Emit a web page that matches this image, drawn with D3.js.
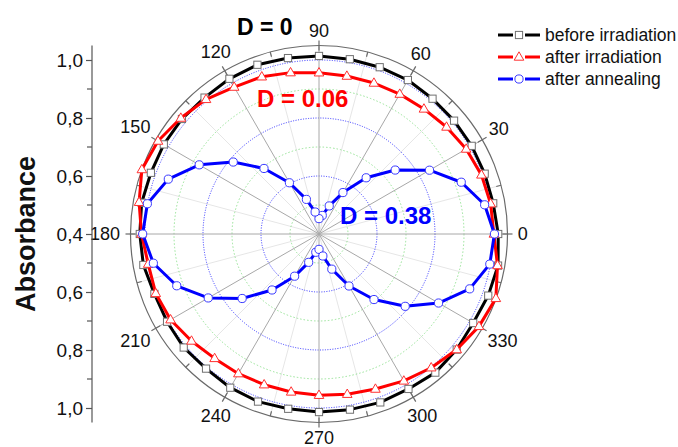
<!DOCTYPE html>
<html>
<head>
<meta charset="utf-8">
<script src="https://cdn.jsdelivr.net/npm/d3@7/dist/d3.min.js"></script>
<style>
  html, body { margin: 0; padding: 0; background: #fff; }
  svg { display: block; font-family: "Liberation Sans", Arial, sans-serif; }
</style>
</head>
<body>
<svg id="chart" width="678" height="447"></svg>
<script>
// Polarisation angle (degrees) of each measurement
const angles = [0, 10, 20, 30, 40, 50, 60, 70, 80, 90, 100, 110, 120, 130, 140, 150, 160, 170,
                180, 190, 200, 210, 220, 230, 240, 250, 260, 270, 280, 290, 300, 310, 320, 330, 340, 350];

// Absorbance at each angle
const beforeIrradiation = [1.018, 1.010, 1.008, 1.008, 1.008, 1.009, 1.013, 1.012, 1.012, 1.014, 1.016, 1.021,
                           1.018, 1.014, 1.017, 1.018, 1.017, 1.021, 1.018, 1.015, 1.004, 1.005, 1.009, 1.006,
                           1.012, 1.015, 1.012, 1.014, 1.015, 1.018, 1.017, 1.024, 1.020, 1.014, 1.021, 1.027];
const afterIrradiation = [1.003, 1.001, 0.996, 0.986, 0.974, 0.963, 0.957, 0.954, 0.953, 0.956, 0.965, 0.977,
                          0.985, 1.006, 1.022, 1.041, 1.050, 1.030, 1.012, 0.998, 0.999, 0.991, 0.974, 0.960,
                          0.956, 0.953, 0.953, 0.956, 0.961, 0.969, 0.985, 1.002, 1.020, 1.037, 1.049, 1.025];
const afterAnnealing = [1.005, 0.980, 0.922, 0.840, 0.743, 0.653, 0.565, 0.503, 0.465, 0.453, 0.477, 0.527,
                        0.604, 0.695, 0.786, 0.877, 0.953, 1.001, 1.008, 0.980, 0.922, 0.841, 0.746, 0.652,
                        0.568, 0.504, 0.464, 0.453, 0.477, 0.529, 0.607, 0.695, 0.788, 0.876, 0.953, 0.998];

const seriesNames = ["before irradiation", "after irradiation", "after annealing"];
const dichroism = ["D = 0", "D = 0.06", "D = 0.38"];

// Radial axis
const radialMin = 0.4, radialMax = 1.05;
const majorRings = [0.6, 0.8, 1.0];
const minorRings = [0.5, 0.7, 0.9];
const angleTicks = [0, 30, 60, 90, 120, 150, 180, 210, 240, 270, 300, 330];
const angleMinorTicks = [15, 45, 75, 105, 135, 165, 195, 225, 255, 285, 315, 345];
const axisTickValues = [-0.6, -0.4, -0.2, 0, 0.2, 0.4, 0.6];
const axisTickLabels = ["1,0", "0,8", "0,6", "0,4", "0,6", "0,8", "1,0"];
const axisMinorValues = [-0.5, -0.3, -0.1, 0.1, 0.3, 0.5];

const svg = d3.select("#chart");
const cx = 319, cy = 234, R = 188.5;

const r = d3.scaleLinear().domain([radialMin, radialMax]).range([0, R]);
const rad = d => d * Math.PI / 180;
const px = (a, v) => cx + r(v) * Math.cos(rad(a));
const py = (a, v) => cy - r(v) * Math.sin(rad(a));

const g = svg.append("g");

// faint minor spokes
g.selectAll("line.minorSpoke").data(angleMinorTicks).join("line")
  .attr("x1", cx).attr("y1", cy)
  .attr("x2", a => px(a, radialMax)).attr("y2", a => py(a, radialMax))
  .attr("stroke", "#e6e6e6").attr("stroke-width", 1);

// minor rings (green dotted)
g.selectAll("circle.minorRing").data(minorRings).join("circle")
  .attr("cx", cx).attr("cy", cy).attr("r", d => r(d))
  .attr("fill", "none").attr("stroke", "#7fdc7f").attr("stroke-width", 0.8)
  .attr("stroke-dasharray", "1.5,2");

// major rings (blue dotted)
g.selectAll("circle.majorRing").data(majorRings).join("circle")
  .attr("cx", cx).attr("cy", cy).attr("r", d => r(d))
  .attr("fill", "none").attr("stroke", "#3333ff").attr("stroke-width", 1)
  .attr("stroke-dasharray", "1,1.5");

// major spokes
g.selectAll("line.spoke").data(angleTicks).join("line")
  .attr("x1", cx).attr("y1", cy)
  .attr("x2", a => px(a, radialMax)).attr("y2", a => py(a, radialMax))
  .attr("stroke", "#a8a8a8").attr("stroke-width", 1);

// outer circle
g.append("circle").attr("cx", cx).attr("cy", cy).attr("r", R)
  .attr("fill", "none").attr("stroke", "#6a6a6a").attr("stroke-width", 1.2);

// angular ticks
g.selectAll("line.aTick").data(angleTicks).join("line")
  .attr("x1", a => cx + (R - 5) * Math.cos(rad(a))).attr("y1", a => cy - (R - 5) * Math.sin(rad(a)))
  .attr("x2", a => cx + (R + 5) * Math.cos(rad(a))).attr("y2", a => cy - (R + 5) * Math.sin(rad(a)))
  .attr("stroke", "#6a6a6a").attr("stroke-width", 1.2);
g.selectAll("line.aMinor").data(angleMinorTicks).join("line")
  .attr("x1", a => cx + (R - 5) * Math.cos(rad(a))).attr("y1", a => cy - (R - 5) * Math.sin(rad(a)))
  .attr("x2", a => cx + R * Math.cos(rad(a))).attr("y2", a => cy - R * Math.sin(rad(a)))
  .attr("stroke", "#6a6a6a").attr("stroke-width", 1.2);

// angle labels: offset grows with the half-width of the label along the spoke
g.selectAll("text.aLabel").data(angleTicks).join("text")
  .attr("x", a => {
    const w = String(a).length * 5.2;
    return cx + (R + 10 + Math.abs(Math.cos(rad(a))) * w) * Math.cos(rad(a));
  })
  .attr("y", a => {
    const w = String(a).length * 5.2;
    return cy - (R + 10 + Math.abs(Math.cos(rad(a))) * w + Math.abs(Math.sin(rad(a))) * 5) * Math.sin(rad(a));
  })
  .attr("text-anchor", "middle").attr("dominant-baseline", "central")
  .attr("font-size", 18).attr("fill", "#111")
  .text(a => a);

// left absorbance axis
const yAxisScale = d3.scaleLinear().domain([radialMax - radialMin, -(radialMax - radialMin)])
  .range([cy - R, cy + R]);
const axisX = 92;
const axisG = svg.append("g").attr("transform", `translate(${axisX},0)`)
  .call(d3.axisLeft(yAxisScale).tickValues(axisTickValues).tickSize(6).tickPadding(3)
    .tickFormat((d, i) => axisTickLabels[i]));
axisG.select(".domain").attr("stroke", "#555").attr("stroke-width", 1.2).attr("d", `M0,${cy - R}V${cy + R}`);
axisG.selectAll(".tick line").attr("stroke", "#555").attr("stroke-width", 1.2);
axisG.selectAll(".tick text").attr("font-size", 19).attr("fill", "#111")
  .attr("font-family", "Liberation Sans, Arial, sans-serif");
axisG.selectAll("line.minor").data(axisMinorValues).join("line")
  .attr("x1", -5).attr("x2", 0)
  .attr("y1", d => yAxisScale(d)).attr("y2", d => yAxisScale(d))
  .attr("stroke", "#555").attr("stroke-width", 1.2);

svg.append("text")
  .attr("transform", `translate(35,${cy}) rotate(-90)`)
  .attr("text-anchor", "middle")
  .attr("font-size", 27).attr("font-weight", "bold").attr("fill", "#111")
  .text("Absorbance");

// series
const series = [
  { name: seriesNames[0], values: beforeIrradiation, line: "#000000", marker: "#707070", shape: "square" },
  { name: seriesNames[1], values: afterIrradiation, line: "#ff0000", marker: "#ff3030", shape: "triangle" },
  { name: seriesNames[2], values: afterAnnealing, line: "#0000ff", marker: "#3a3aff", shape: "circle" }
];

const lineGen = d3.line().x(d => px(d.a, d.v)).y(d => py(d.a, d.v)).curve(d3.curveLinearClosed);

function drawMarker(sel, shape, color) {
  if (shape === "square") {
    sel.append("rect").attr("x", -3.6).attr("y", -3.6).attr("width", 7.2).attr("height", 7.2)
      .attr("fill", "#fff").attr("stroke", color).attr("stroke-width", 1);
  } else if (shape === "triangle") {
    sel.append("path").attr("d", "M0,-5.2L4.8,3.2L-4.8,3.2Z")
      .attr("fill", "#fff").attr("stroke", color).attr("stroke-width", 1);
  } else {
    sel.append("circle").attr("r", 4.1)
      .attr("fill", "#fff").attr("stroke", color).attr("stroke-width", 1);
  }
}

series.forEach(s => {
  const pts = angles.map((a, i) => ({ a, v: s.values[i] }));
  svg.append("path").attr("d", lineGen(pts))
    .attr("fill", "none").attr("stroke", s.line).attr("stroke-width", 3)
    .attr("stroke-linejoin", "round");
  svg.append("g").selectAll("g").data(pts).join("g")
    .attr("transform", d => `translate(${px(d.a, d.v)},${py(d.a, d.v)})`)
    .each(function () { drawMarker(d3.select(this), s.shape, s.marker); });
});

// dichroism annotations
svg.append("text").attr("x", 237).attr("y", 35).attr("font-size", 23).attr("font-weight", "bold")
  .attr("fill", "#000").text(dichroism[0]);
svg.append("text").attr("x", 257).attr("y", 107).attr("font-size", 24).attr("font-weight", "bold")
  .attr("fill", "#ff0000").text(dichroism[1]);
svg.append("text").attr("x", 340).attr("y", 224).attr("font-size", 24).attr("font-weight", "bold")
  .attr("fill", "#0000ff").text(dichroism[2]);

// legend
const legend = svg.append("g").attr("transform", "translate(498,35)");
series.forEach((s, i) => {
  const row = legend.append("g").attr("transform", `translate(0,${i * 22})`);
  row.append("line").attr("x1", 0).attr("x2", 42).attr("y1", 0).attr("y2", 0)
    .attr("stroke", s.line).attr("stroke-width", 3);
  const m = row.append("g").attr("transform", "translate(21,0)");
  m.append("rect").attr("x", -6).attr("y", -5).attr("width", 12).attr("height", 10).attr("fill", "#fff");
  drawMarker(m, s.shape, s.marker);
  row.append("text").attr("x", 47).attr("y", 0).attr("dominant-baseline", "central")
    .attr("font-size", 17.5).attr("fill", "#111").text(s.name);
});
</script>
</body>
</html>
